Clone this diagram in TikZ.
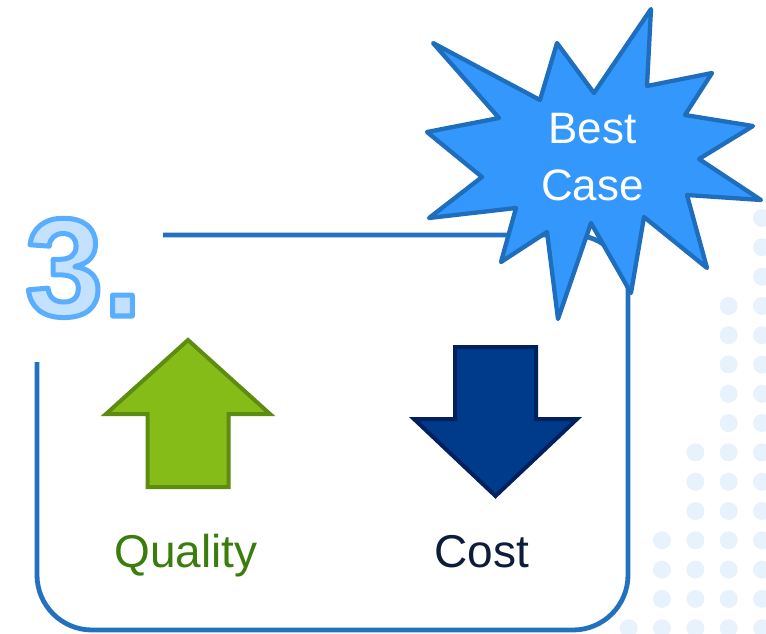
\documentclass[tikz,border=0pt]{standalone}
\usepackage{fontspec}
\setmainfont{Liberation Sans}
\usetikzlibrary{calc}
\definecolor{dotc}{HTML}{E8F2FD}
\definecolor{boxc}{HTML}{2271C1}
\definecolor{starfill}{HTML}{3397FC}
\definecolor{starline}{HTML}{1F6EBE}
\definecolor{greenfill}{HTML}{86BC18}
\definecolor{greenline}{HTML}{5E8C10}
\definecolor{bluefill}{HTML}{003A8A}
\definecolor{blueline}{HTML}{00205E}
\definecolor{qualc}{HTML}{3B7D0C}
\definecolor{costc}{HTML}{0C1C3A}
\definecolor{numfill}{HTML}{C4E1FF}
\definecolor{numline}{HTML}{5AAEFF}
\newcommand\myoutlined[1]{\special{pdf:literal direct q 2 Tr 5 w 1 j 0.353 0.682 1 RG}#1\special{pdf:literal 0 Tr}\special{pdf:literal direct Q}}
\begin{document}
\begin{tikzpicture}[x=1pt,y=-1pt,
  boxline/.style={draw=boxc,line width=4.8pt,rounded corners=55pt},
  burst/.style={draw=starline,fill=starfill,line width=4.3pt,line join=round},
  uparrow/.style={draw=greenline,fill=greenfill,line width=4pt,line join=miter},
  downarrow/.style={draw=blueline,fill=bluefill,line width=4pt,line join=miter},
  label/.style={inner sep=0pt,anchor=base,font=\fontsize{46}{50}\selectfont},
  startext/.style={inner sep=0pt,anchor=base,text=white,font=\fontsize{44}{50}\selectfont},
  numtext/.style={inner sep=0pt,anchor=base west,font=\fontsize{140}{150}\selectfont\bfseries}
]
\useasboundingbox (0,0) rectangle (766,633);
% dot grid
\foreach \c/\k in {762/0,728.7/3,695.4/8,662/11,628.7/14}{
  \foreach \r in {\k,...,14}{
    \fill[dotc] (\c,218+\r*29.3) circle[radius=9pt];
  }
}
% frame
\coordinate (fstart) at (163,235);
\coordinate (ftr) at (628,235);
\coordinate (fbr) at (628,630);
\coordinate (fbl) at (37,630);
\coordinate (fend) at (37,362);
\draw[boxline] (fstart) -- (ftr) -- (fbr) -- (fbl) -- (fend);
% number "3."
\node[numtext,text=numfill] (num) at (25,316) {\myoutlined{3.}};
% star burst
\draw[burst] (433,43) -- (540,100) -- (557,43) -- (594,93) -- (651,9) -- (647,86)
  -- (712,73) -- (685,115) -- (753,126) -- (699,159) -- (761,200) -- (687,195)
  -- (707,268) -- (644,217) -- (631,293) -- (591,223) -- (558,319) -- (547,232)
  -- (501,262) -- (516,208) -- (429,218) -- (482,177) -- (427,132) -- (499,118) -- cycle;
\node[startext] (best) at (592.3,143) {Best};
\node[startext] (case) at (592.5,200) {Case};
% arrows
\draw[uparrow] (188,340) -- (270,414) -- (228.5,414) -- (228.5,487) -- (147.5,487)
  -- (147.5,414) -- (106,414) -- cycle;
\draw[downarrow] (455,347) -- (536,347) -- (536,419) -- (577,419) -- (495.5,496)
  -- (414,419) -- (455,419) -- cycle;
% labels
\node[label,text=qualc] (quality) at (186,567) {Quality};
\node[label,text=costc] (cost) at (481.5,567) {Cost};
\end{tikzpicture}
\end{document}
